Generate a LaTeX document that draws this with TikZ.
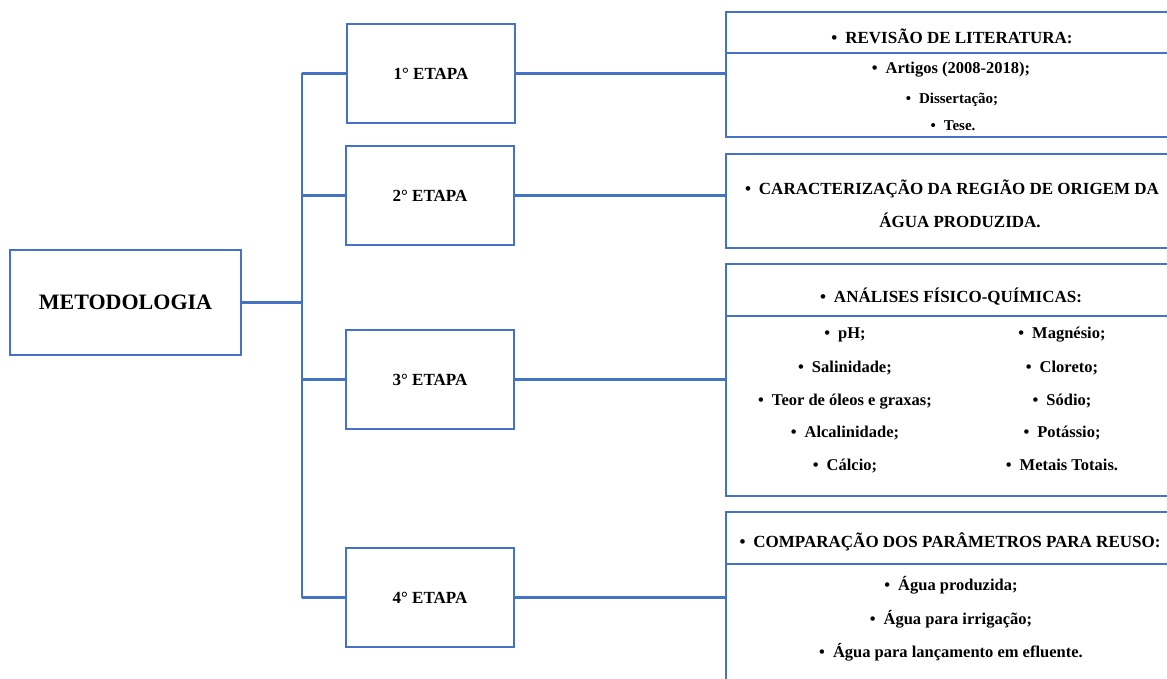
\documentclass[tikz,border=0pt]{standalone}
\usepackage{fontspec}
\setmainfont{Liberation Serif}
\usetikzlibrary{positioning}
\definecolor{azul}{HTML}{4472C4}
\newcommand{\marca}{\textbullet\hspace{8pt}}

\begin{document}
\begin{tikzpicture}[x=1pt,y=-1pt]
	\tikzstyle{caixa}=[draw=azul, line width=2.2pt, rectangle, inner sep=0pt, font=\bfseries\fontsize{17}{20}\selectfont]
	\tikzstyle{lista}=[inner sep=0pt, yshift=-3pt, text height=0.72em, text depth=0.22em, font=\bfseries\fontsize{16.5}{20}\selectfont]
	\tikzstyle{titulo}=[inner sep=0pt, yshift=-3pt, text height=0.72em, text depth=0.22em, font=\bfseries\fontsize{17}{20}\selectfont]
	\tikzstyle{liga}=[draw=azul, line width=2.2pt]
	\useasboundingbox (0,0) rectangle (1167,679);
	\clip (0,0) rectangle (1167,679);
	\node[caixa, minimum width=231pt, minimum height=105pt, font=\bfseries\fontsize{22}{26}\selectfont] (met) at (125.5,302.5) {METODOLOGIA};
	\node[caixa, minimum width=168pt, minimum height=99pt] (e1) at (431,73.5)  {1° ETAPA};
	\node[caixa, minimum width=168pt, minimum height=99pt] (e2) at (430,195.5) {2° ETAPA};
	\node[caixa, minimum width=168pt, minimum height=99pt] (e3) at (430,379.5) {3° ETAPA};
	\node[caixa, minimum width=168pt, minimum height=99pt] (e4) at (430,597.5) {4° ETAPA};
	\node[caixa, minimum width=452pt, minimum height=125pt] (r1) at (952,74.5) {};
	\node[caixa, minimum width=452pt, minimum height=94pt]  (r2) at (952,201)  {};
	\node[caixa, minimum width=452pt, minimum height=232pt] (r3) at (952,380)  {};
	\node[caixa, minimum width=452pt, minimum height=188pt] (r4) at (952,606)  {};
	\coordinate (topo) at (302,73);
	\coordinate (base) at (302,598);
	\draw[liga] (r1.west |- 0,53)  -- (r1.east |- 0,53);
	\draw[liga] (r3.west |- 0,316) -- (r3.east |- 0,316);
	\draw[liga] (r4.west |- 0,564) -- (r4.east |- 0,564);
	\node[titulo] (r1t) at (952,38) {\marca REVISÃO DE LITERATURA:};
	\node[lista] (r1a) at (951,68) {\marca Artigos (2008-2018);};
	\node[lista, font=\bfseries\fontsize{15}{18}\selectfont] (r1b) at (952,98) {\marca Dissertação;};
	\node[lista, font=\bfseries\fontsize{15}{18}\selectfont] (r1c) at (953,125) {\marca Tese.};
	\node[titulo] (r2t) at (952,189) {\marca CARACTERIZAÇÃO DA REGIÃO DE ORIGEM DA};
	\node[titulo] (r2u) at (960,222) {ÁGUA PRODUZIDA.};
	\node[titulo] (r3t) at (951,297) {\marca ANÁLISES FÍSICO-QUÍMICAS:};
	\node[lista] (r3a) at (845,333) {\marca pH;};
	\node[lista] (r3b) at (845,367) {\marca Salinidade;};
	\node[lista] (r3c) at (845,400) {\marca Teor de óleos e graxas;};
	\node[lista] (r3d) at (845,432) {\marca Alcalinidade;};
	\node[lista] (r3e) at (845,465) {\marca Cálcio;};
	\node[lista] (r3f) at (1062,333) {\marca Magnésio;};
	\node[lista] (r3g) at (1062,367) {\marca Cloreto;};
	\node[lista] (r3h) at (1062,400) {\marca Sódio;};
	\node[lista] (r3i) at (1062,432) {\marca Potássio;};
	\node[lista] (r3j) at (1062,465) {\marca Metais Totais.};
	\node[titulo] (r4t) at (950,542) {\marca COMPARAÇÃO DOS PARÂMETROS PARA REUSO:};
	\node[lista] (r4a) at (951,585) {\marca Água produzida;};
	\node[lista] (r4b) at (951,619) {\marca Água para irrigação;};
	\node[lista] (r4c) at (951,652) {\marca Água para lançamento em efluente.};
	\draw[liga] (met.east) -- (met.east -| topo);
	\draw[liga] (topo) -- (base);
	\foreach \i in {1,2,3,4} {
		\draw[liga] (e\i.west) -- (e\i.west -| topo);
		\draw[liga] (e\i.east) -- (e\i.east -| r\i.west);
	}
\end{tikzpicture}
\end{document}
